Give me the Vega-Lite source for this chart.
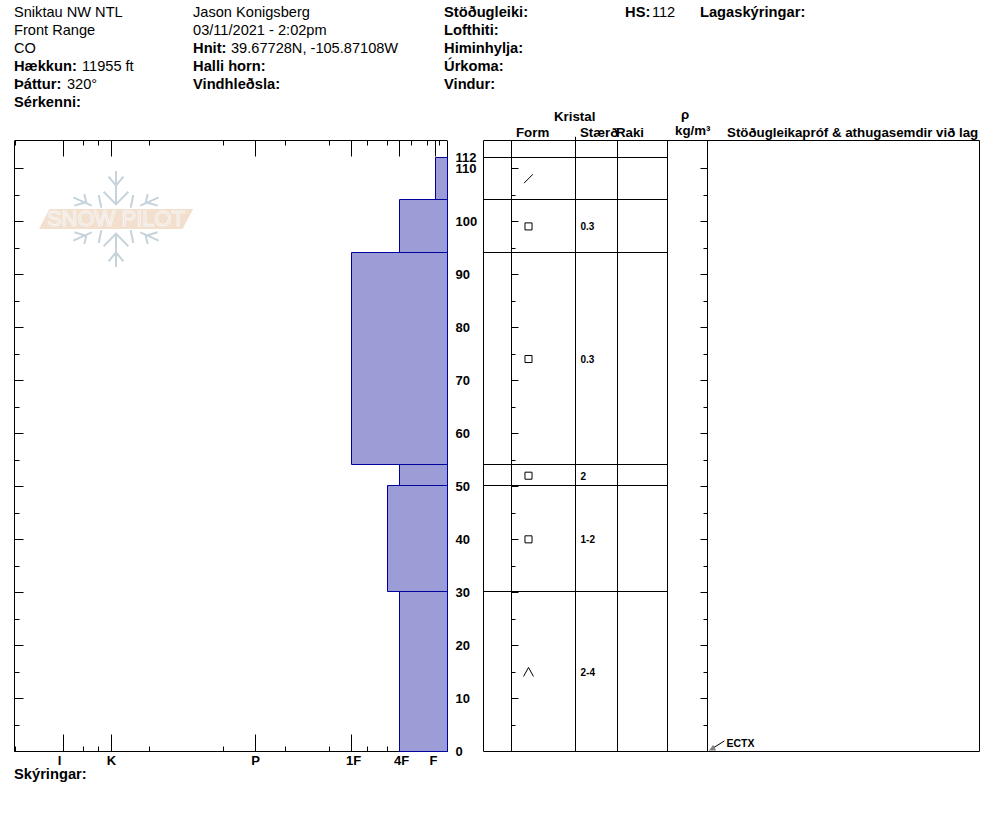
{"$schema":"https://vega.github.io/schema/vega-lite/v6.json","width":994,"height":840,"padding":0,"autosize":"none","background":"white",
"config":{"view":{"stroke":null},"text":{"font":"Liberation Sans"},"axis":{"title":null,"grid":false,"tickColor":"black","domainColor":"black","labelColor":"black","zindex":1,"labelFont":"Liberation Sans","labelFontWeight":"bold","labelFontSize":13}},
"resolve":{"scale":{"x":"independent","y":"independent","shape":"independent"},"axis":{"x":"independent","y":"independent"}},
"datasets":{
"layers":[{"top":112,"bottom":104,"hardness":35},{"top":104,"bottom":94,"hardness":32},{"top":94,"bottom":54,"hardness":28},{"top":54,"bottom":50,"hardness":32},{"top":50,"bottom":30,"hardness":31},{"top":30,"bottom":-0.1,"hardness":32}],
"crystals":[{"depth":108,"form":"slash","size":""},{"depth":99,"form":"square","size":"0.3"},{"depth":74,"form":"square","size":"0.3"},{"depth":52,"form":"square","size":"2"},{"depth":40,"form":"square","size":"1-2"},{"depth":15,"form":"caret","size":"2-4"}],
"columns":[{"edge":0},{"edge":28},{"edge":92},{"edge":134},{"edge":184},{"edge":224},{"edge":496}],
"bold":[{"t":"Hækkun:","c":1.41,"l":4},{"t":"Þáttur:","c":1.41,"l":5},{"t":"Sérkenni:","c":1.41,"l":6},{"t":"Hnit:","c":19.42,"l":3},{"t":"Halli horn:","c":19.42,"l":4},{"t":"Vindhleðsla:","c":19.42,"l":5},{"t":"Stöðugleiki:","c":44.67,"l":1},{"t":"Lofthiti:","c":44.67,"l":2},{"t":"Himinhylja:","c":44.67,"l":3},{"t":"Úrkoma:","c":44.67,"l":4},{"t":"Vindur:","c":44.67,"l":5},{"t":"HS:","c":62.88,"l":1},{"t":"Lagaskýringar:","c":70.42,"l":1},{"t":"Skýringar:","c":1.41,"l":43.33}],
"plain":[{"t":"Sniktau NW NTL","c":1.41,"l":1},{"t":"Front Range","c":1.41,"l":2},{"t":"CO","c":1.41,"l":3},{"t":"11955 ft","c":8.25,"l":4},{"t":"320°","c":6.74,"l":5},{"t":"Jason Konigsberg","c":19.42,"l":1},{"t":"03/11/2021 - 2:02pm","c":19.42,"l":2},{"t":"39.67728N, -105.87108W","c":23.24,"l":3},{"t":"112","c":65.59,"l":1}],
"heads":[{"t":"Kristal","c":55.73,"l":6.83},{"t":"Form","c":51.91,"l":7.72},{"t":"Stærð","c":58.35,"l":7.72},{"t":"Raki","c":61.97,"l":7.72},{"t":"ρ","c":68.51,"l":6.72},{"t":"kg/m³","c":67.91,"l":7.61},{"t":"Stöðugleikapróf & athugasemdir við lag","c":73.14,"l":7.72}],
"lines":[{"depth":112},{"depth":104},{"depth":94},{"depth":54},{"depth":50},{"depth":30}],
"frame":[{"depth":115.2},{"depth":0}]
},
"layer":[
{"data":{"values":[{"h":8.375,"d":100.4}]},"mark":{"type":"point","filled":false,"stroke":"#c6d3db","strokeWidth":2,"opacity":1,"shape":"M0,-.615L0,-.188M-.094,-.543L0,-.427L.094,-.543M-.158,-.35L0,-.188L.158,-.35M0,.615L0,.188M-.094,.543L0,.427L.094,.543M-.158,.35L0,.188L.158,.35M.312,-.171L.547,-.278M.406,-.32L.376,-.192M.534,-.171L.385,-.214M.222,-.308L.188,-.145M-.312,-.171L-.547,-.278M-.406,-.32L-.376,-.192M-.534,-.171L-.385,-.214M-.222,-.308L-.188,-.145M.312,.171L.547,.278M.406,.32L.376,.192M.534,.171L.385,.214M.222,.308L.188,.145M-.312,.171L-.547,.278M-.406,.32L-.376,.192M-.534,.171L-.385,.214M-.222,.308L-.188,.145","size":24336},"encoding":{"x":{"field":"h","type":"quantitative","scale":{"domain":[0,36],"range":[15.5,447.5]},"axis":null},"y":{"field":"d","type":"quantitative","scale":{"domain":[0,115.2],"range":[751.5,140.5]},"axis":null}}},
{"data":{"values":[{"h":8.375,"d":100.4}]},"mark":{"type":"point","filled":true,"fill":"#f2dfcd","stroke":null,"opacity":1,"shape":"M-.987,.128L-.853,-.128L.99,-.128L.853,.128Z","size":24336},"encoding":{"x":{"field":"h","type":"quantitative","scale":{"domain":[0,36],"range":[15.5,447.5]},"axis":null},"y":{"field":"d","type":"quantitative","scale":{"domain":[0,115.2],"range":[751.5,140.5]},"axis":null}}},
{"data":{"values":[{"h":8.375,"d":100.4,"t":"SNOW PILOT"}]},"mark":{"type":"text","font":"Liberation Sans","fontSize":22,"fill":"#f2dfcd","stroke":"#f6f6f4","strokeWidth":1,"align":"center","baseline":"middle"},"encoding":{"text":{"field":"t"},"x":{"field":"h","type":"quantitative","scale":{"domain":[0,36],"range":[15.5,447.5]},"axis":null},"y":{"field":"d","type":"quantitative","scale":{"domain":[0,115.2],"range":[751.5,140.5]},"axis":null}}},
{"data":{"name":"layers"},"mark":{"type":"rect","fill":"#9c9cd6","stroke":"#00009c","strokeWidth":1,"yOffset":0.5,"y2Offset":0.5},"encoding":{"x":{"field":"hardness","type":"quantitative","scale":{"domain":[0,36],"range":[15.5,447.5]},"axis":null},"x2":{"datum":36},"y":{"field":"top","type":"quantitative","scale":{"domain":[0,115.2],"range":[750.3,139.74],"round":true},"axis":null},"y2":{"field":"bottom"}}},
{"data":{"values":[{"h":0,"d":0}]},"mark":{"type":"point","opacity":0},"encoding":{"x":{"field":"h","type":"quantitative","scale":{"domain":[-0.0833,36],"range":[14,447]},"axis":{"orient":"bottom","offset":-89,"values":[4,8,20,28,32,35],"tickSize":-17,"labelPadding":20,"labelExpr":"{'4':'I','8':'K','20':'P','28':'1F','32':'4F','35':'F'}[datum.value]","labelOverlap":false,"domain":true,"labelOffset":{"condition":[{"test":"datum.value==4","value":-4},{"test":"datum.value==28","value":2},{"test":"datum.value==32","value":2},{"test":"datum.value==35","value":-2}],"value":0}}},"y":{"field":"d","type":"quantitative","scale":{"domain":[0,115.2],"range":[751,140.44]},"axis":{"orient":"left","offset":-14,"values":[0,10,20,30,40,50,60,70,80,90,100,110],"tickSize":-9,"labels":false,"domain":true}}}},
{"data":{"values":[{"h":0,"d":0}]},"mark":{"type":"point","opacity":0},"encoding":{"x":{"field":"h","type":"quantitative","scale":{"domain":[-0.0833,36],"range":[14,447]},"axis":{"orient":"bottom","offset":-89,"values":[0,5.67,6.9,11.2,17.3,22.5,26.2,29.3,31,33,34.3,35.3],"tickSize":-5,"labels":false,"domain":false}},"y":{"field":"d","type":"quantitative","scale":{"domain":[0,115.2],"range":[751,140.44]},"axis":{"orient":"left","offset":-14,"values":[5,15,25,35,45,55,65,75,85,95,105],"tickSize":-5,"labels":false,"domain":false}}}},
{"data":{"values":[{"h":0,"d":0}]},"mark":{"type":"point","opacity":0},"encoding":{"x":{"field":"h","type":"quantitative","scale":{"domain":[-0.0833,36],"range":[14,447]},"axis":{"orient":"top","offset":-140,"values":[4,8,20,28,32,35],"tickSize":-16,"labels":false,"domain":true}},"y":{"field":"d","type":"quantitative","scale":{"domain":[0,115.2],"range":[751,140.44]},"axis":{"orient":"right","offset":-547,"values":[0,10,20,30,40,50,60,70,80,90,100,110],"tickSize":-8,"labelPadding":16,"labelAlign":"left","labelFontSize":13,"domain":true}}}},
{"data":{"values":[{"h":0,"d":0}]},"mark":{"type":"point","opacity":0},"encoding":{"x":{"field":"h","type":"quantitative","scale":{"domain":[-0.0833,36],"range":[14,447]},"axis":{"orient":"top","offset":-140,"values":[0,5.67,6.9,11.2,17.3,22.5,26.2,29.3,31,33,34.3,35.3],"tickSize":-5,"labels":false,"domain":false}},"y":{"field":"d","type":"quantitative","scale":{"domain":[0,115.2],"range":[751,140.44]},"axis":{"orient":"right","offset":-547,"values":[5,15,25,35,45,55,65,75,85,95,105],"tickSize":-4,"labels":false,"domain":false}}}},
{"data":{"values":[{"d":112}]},"mark":{"type":"point","opacity":0},"encoding":{"y":{"field":"d","type":"quantitative","scale":{"domain":[0,115.2],"range":[751,140.44]},"axis":{"orient":"right","offset":-547,"values":[112],"ticks":false,"labelPadding":8,"labelAlign":"left","labelFontSize":13,"domain":false}}}},
{"data":{"values":[{"d":0}]},"mark":{"type":"point","opacity":0},"encoding":{"y":{"field":"d","type":"quantitative","scale":{"domain":[0,115.2],"range":[751,140.44]},"axis":{"orient":"left","offset":-511,"values":[5,15,25,35,45,55,65,75,85,95,105],"tickSize":-4,"labels":false,"domain":false}}}},
{"data":{"values":[{"d":0}]},"mark":{"type":"point","opacity":0},"encoding":{"y":{"field":"d","type":"quantitative","scale":{"domain":[0,115.2],"range":[751,140.44]},"axis":{"orient":"left","offset":-511,"values":[10,20,30,40,50,60,70,80,90,100,110],"tickSize":-7,"labels":false,"domain":false}}}},
{"data":{"values":[{"d":0}]},"mark":{"type":"point","opacity":0},"encoding":{"y":{"field":"d","type":"quantitative","scale":{"domain":[0,115.2],"range":[751,140.44]},"axis":{"orient":"right","offset":-287,"values":[10,20,30,40,50,60,70,80,90,100,110],"tickSize":-7,"labels":false,"domain":false}}}},
{"data":{"values":[{"d":0}]},"mark":{"type":"point","opacity":0},"encoding":{"y":{"field":"d","type":"quantitative","scale":{"domain":[0,115.2],"range":[751,140.44]},"axis":{"orient":"right","offset":-287,"values":[5,15,25,35,45,55,65,75,85,95,105],"tickSize":-4,"labels":false,"domain":false}}}},
{"data":{"name":"columns"},"mark":{"type":"rule","color":"black","strokeWidth":1},"encoding":{"x":{"field":"edge","type":"quantitative","scale":{"domain":[0,496],"range":[483.5,979.5]},"axis":null},"y":{"datum":0,"scale":{"domain":[0,115.2],"range":[751.5,140.5]},"axis":null},"y2":{"datum":115.2}}},
{"data":{"values":[{"edge":92}]},"mark":{"type":"rule","color":"black","strokeWidth":1},"encoding":{"x":{"field":"edge","type":"quantitative","scale":{"domain":[0,496],"range":[483.5,979.5]},"axis":null},"y":{"datum":115.2,"scale":{"domain":[0,115.2],"range":[751.5,140.5]},"axis":null},"y2":{"datum":115.9}}},
{"data":{"name":"lines"},"transform":[{"calculate":"0","as":"from"},{"calculate":"184","as":"to"}],"mark":{"type":"rule","color":"black","strokeWidth":1,"yOffset":0.5},"encoding":{"x":{"field":"from","type":"quantitative","scale":{"domain":[0,496],"range":[483.5,979.5]},"axis":null},"x2":{"field":"to"},"y":{"field":"depth","type":"quantitative","scale":{"domain":[0,115.2],"range":[750.3,139.74],"round":true},"axis":null}}},
{"data":{"name":"frame"},"transform":[{"calculate":"0","as":"from"},{"calculate":"496","as":"to"}],"mark":{"type":"rule","color":"black","strokeWidth":1},"encoding":{"x":{"field":"from","type":"quantitative","scale":{"domain":[0,496],"range":[483.5,979.5]},"axis":null},"x2":{"field":"to"},"y":{"field":"depth","type":"quantitative","scale":{"domain":[0,115.2],"range":[751.5,140.5]},"axis":null}}},
{"data":{"name":"crystals"},"transform":[{"calculate":"45","as":"formcol"}],"mark":{"type":"point","filled":false,"stroke":"black","strokeWidth":1,"opacity":1,"size":256},"encoding":{"x":{"field":"formcol","type":"quantitative","scale":{"domain":[0,496],"range":[483.5,979.5]},"axis":null},"y":{"field":"depth","type":"quantitative","scale":{"domain":[0,115.2],"range":[751.5,140.5]},"axis":null},"shape":{"field":"form","type":"nominal","legend":null,"scale":{"domain":["square","slash","caret"],"range":["M-.44,-.44L.44,-.44L.44,.44L-.44,.44Z","M-.56,.56L.56,-.56","M-.62,.56L0,-.56L.62,.56"]}}}},
{"data":{"name":"crystals"},"transform":[{"calculate":"97","as":"sizecol"}],"mark":{"type":"text","font":"Liberation Sans","fontWeight":"bold","fontSize":10,"align":"left","baseline":"middle","color":"black","dy":1},"encoding":{"text":{"field":"size"},"x":{"field":"sizecol","type":"quantitative","scale":{"domain":[0,496],"range":[483.5,979.5]},"axis":null},"y":{"field":"depth","type":"quantitative","scale":{"domain":[0,115.2],"range":[751.5,140.5]},"axis":null}}},
{"data":{"values":[{"col":241,"depth":2},{"col":229,"depth":0.6}]},"mark":{"type":"line","color":"black","strokeWidth":1},"encoding":{"x":{"field":"col","type":"quantitative","scale":{"domain":[0,496],"range":[483.5,979.5]},"axis":null},"y":{"field":"depth","type":"quantitative","scale":{"domain":[0,115.2],"range":[751.5,140.5]},"axis":null}}},
{"data":{"values":[{"col":229,"depth":0.66}]},"mark":{"type":"point","filled":true,"fill":"#808080","stroke":null,"opacity":1,"size":64,"shape":"M-.9,.6L.2,-.8L.9,.6Z"},"encoding":{"x":{"field":"col","type":"quantitative","scale":{"domain":[0,496],"range":[483.5,979.5]},"axis":null},"y":{"field":"depth","type":"quantitative","scale":{"domain":[0,115.2],"range":[751.5,140.5]},"axis":null}}},
{"data":{"values":[{"col":243,"depth":1.5,"t":"ECTX"}]},"mark":{"type":"text","font":"Liberation Sans","fontWeight":"bold","fontSize":10.5,"align":"left","baseline":"middle","color":"black"},"encoding":{"text":{"field":"t"},"x":{"field":"col","type":"quantitative","scale":{"domain":[0,496],"range":[483.5,979.5]},"axis":null},"y":{"field":"depth","type":"quantitative","scale":{"domain":[0,115.2],"range":[751.5,140.5]},"axis":null}}},
{"data":{"name":"plain"},"mark":{"type":"text","font":"Liberation Sans","fontSize":14.6,"align":"left","baseline":"middle","color":"black"},"encoding":{"text":{"field":"t"},"x":{"field":"c","type":"quantitative","scale":{"domain":[0,100],"range":[0,994]},"axis":null},"y":{"field":"l","type":"quantitative","scale":{"domain":[1,6],"range":[13,103]},"axis":null}}},
{"data":{"name":"bold"},"mark":{"type":"text","font":"Liberation Sans","fontSize":14.7,"fontWeight":"bold","align":"left","baseline":"middle","color":"black"},"encoding":{"text":{"field":"t"},"x":{"field":"c","type":"quantitative","scale":{"domain":[0,100],"range":[0,994]},"axis":null},"y":{"field":"l","type":"quantitative","scale":{"domain":[1,6],"range":[13,103]},"axis":null}}},
{"data":{"name":"heads"},"mark":{"type":"text","font":"Liberation Sans","fontSize":13.3,"fontWeight":"bold","align":"left","baseline":"middle","color":"black"},"encoding":{"text":{"field":"t"},"x":{"field":"c","type":"quantitative","scale":{"domain":[0,100],"range":[0,994]},"axis":null},"y":{"field":"l","type":"quantitative","scale":{"domain":[1,6],"range":[12,102]},"axis":null}}}
]}
